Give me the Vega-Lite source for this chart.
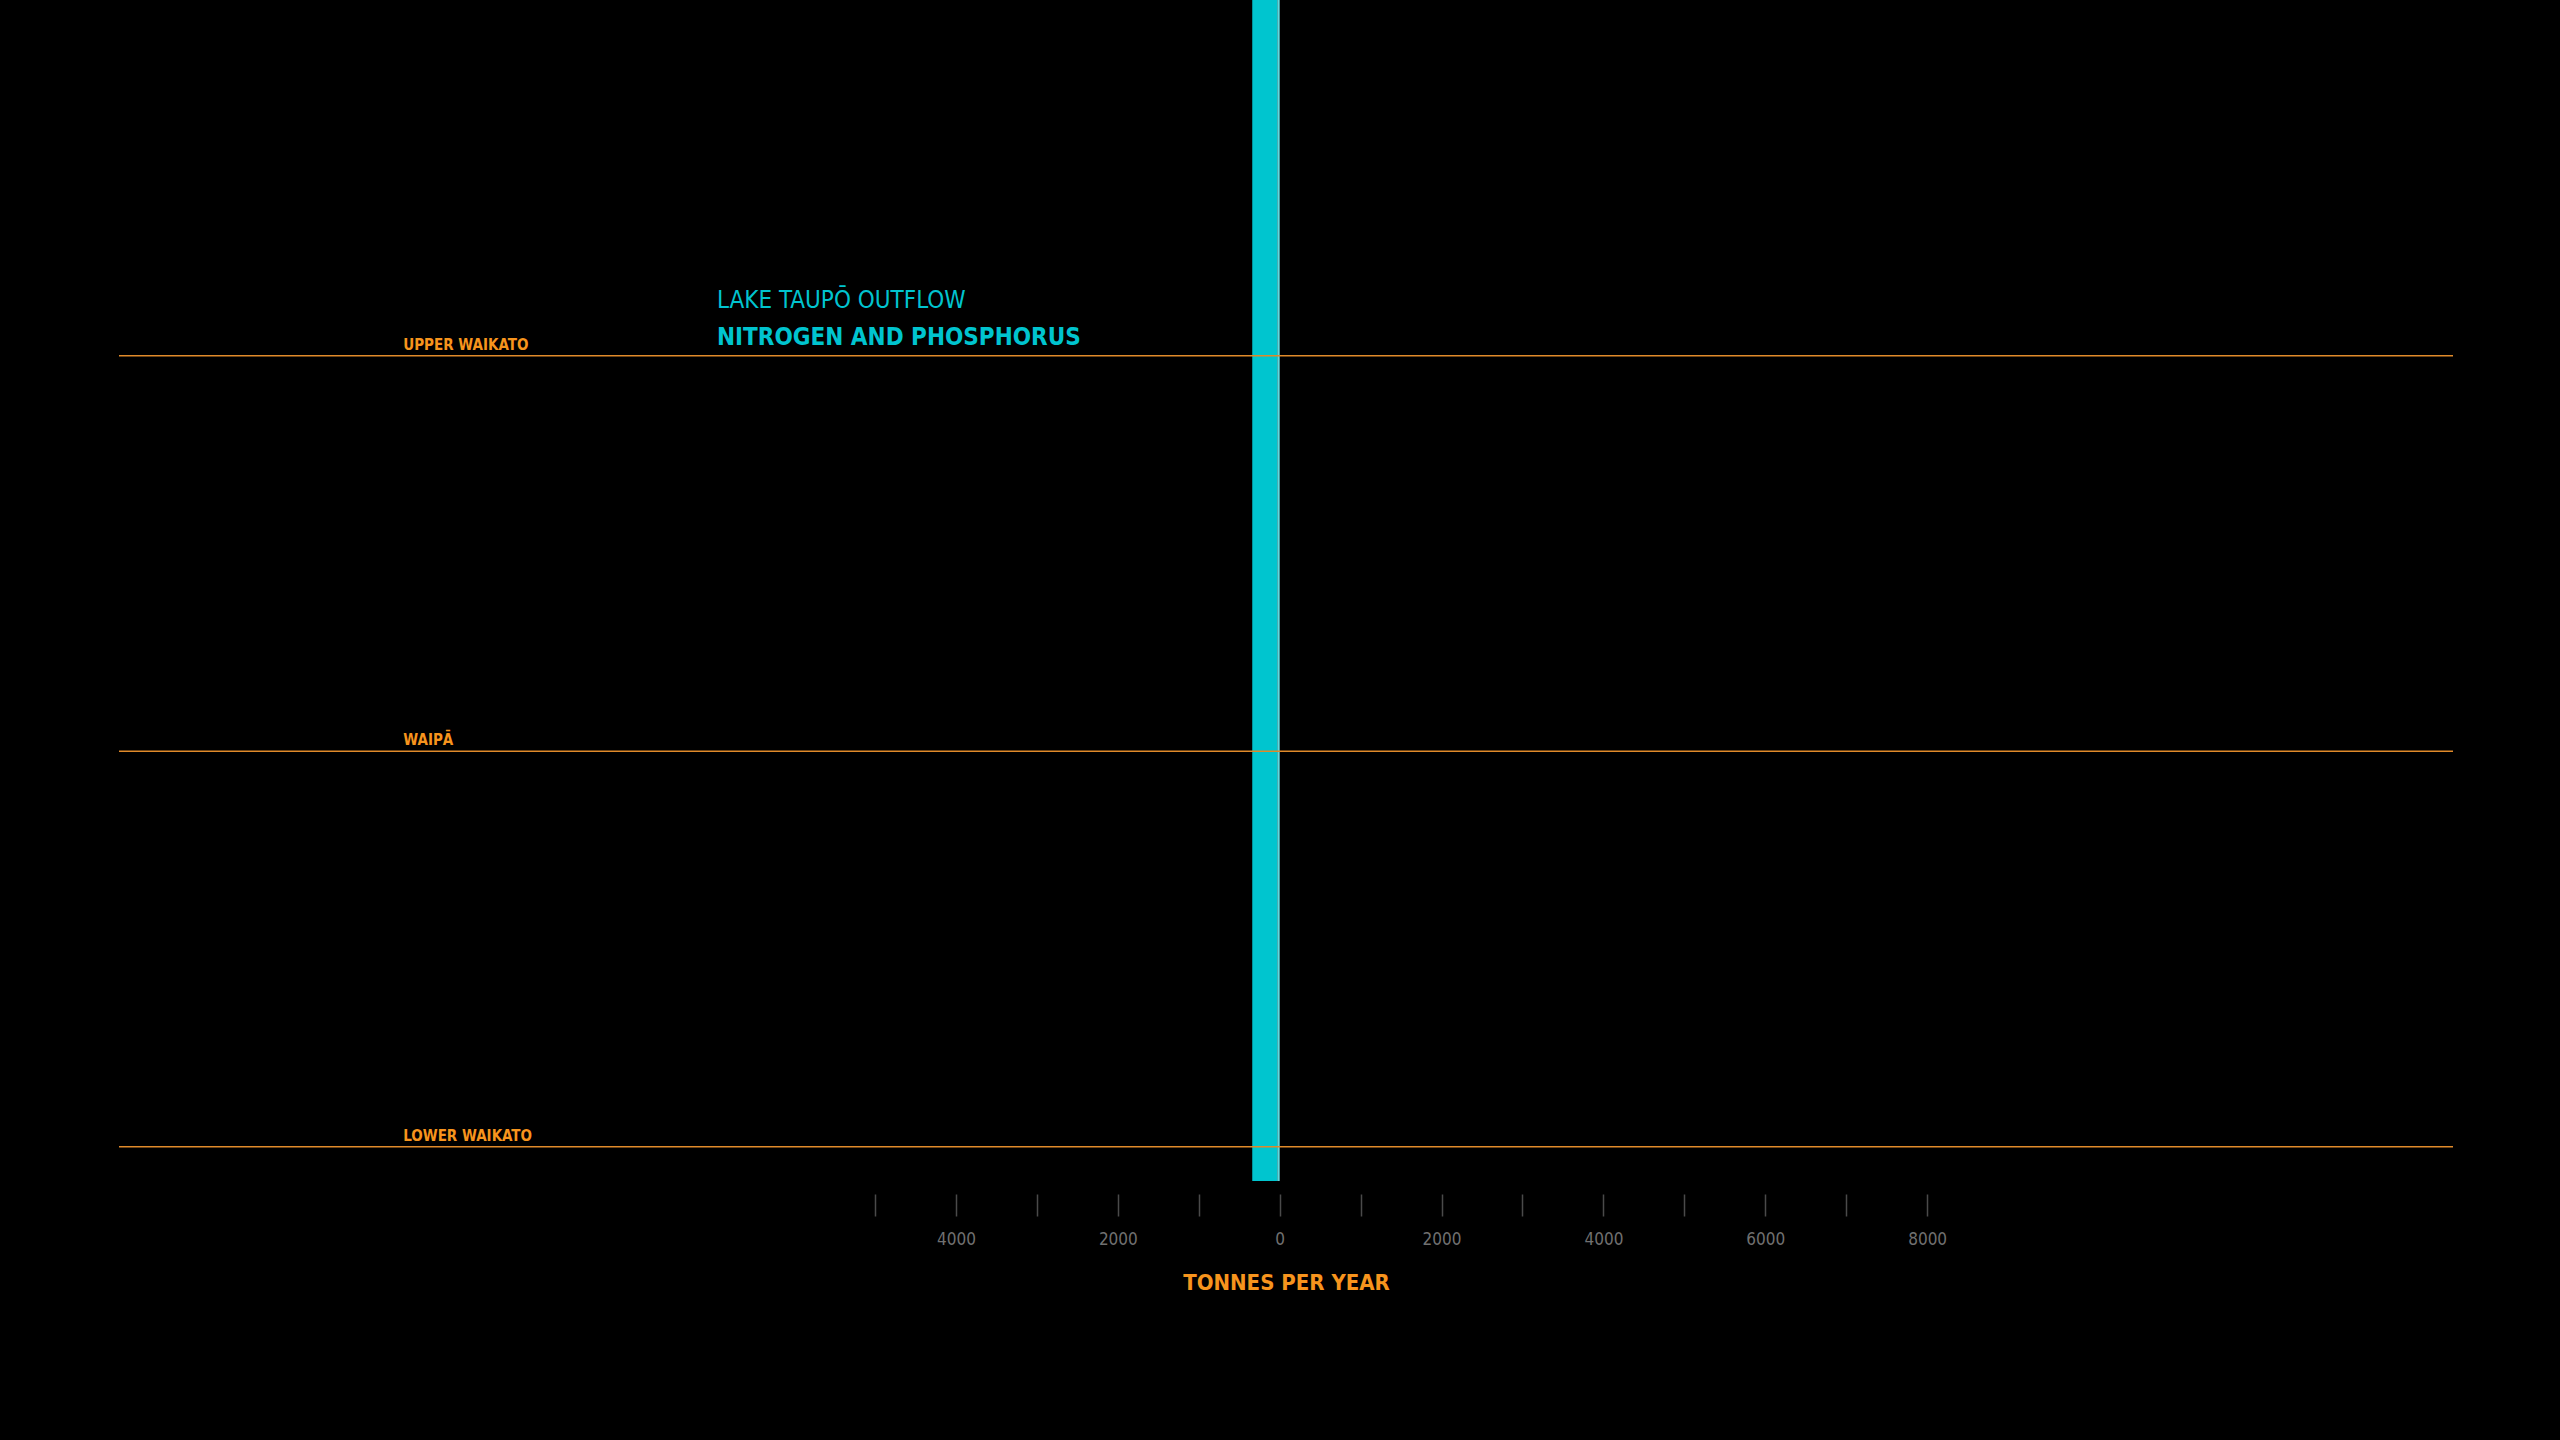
{
  "$schema": "https://vega.github.io/schema/vega-lite/v6.json",
  "width": 2334,
  "height": 1181,
  "autosize": {"type": "none"},
  "padding": {"left": 119, "top": 0, "right": 107, "bottom": 259},
  "background": "#000000",
  "config": {
    "view": {"stroke": null},
    "font": "Liberation Sans Narrow, DejaVu Sans Condensed, sans-serif"
  },
  "datasets": {
    "regions": [
      {"region": "UPPER WAIKATO", "pos": 1},
      {"region": "WAIPĀ", "pos": 2},
      {"region": "LOWER WAIKATO", "pos": 3}
    ],
    "outflow": [
      {"series": "Nitrogen", "start": -339, "end": -30},
      {"series": "Phosphorus", "start": -30, "end": 0}
    ],
    "titles": [
      {"text": "LAKE TAUPŌ OUTFLOW", "line": 1, "pos": 0.8786},
      {"text": "NITROGEN AND PHOSPHORUS", "line": 2, "pos": 0.973}
    ]
  },
  "layer": [
    {
      "data": {"name": "outflow"},
      "mark": {"type": "rect"},
      "encoding": {
        "x": {
          "field": "start",
          "type": "quantitative",
          "scale": {"domain": [-14342, 14498], "nice": false, "zero": false},
          "axis": {
            "orient": "bottom",
            "title": "TONNES PER YEAR",
            "values": [-5000, -4000, -3000, -2000, -1000, 0, 1000, 2000, 3000, 4000, 5000, 6000, 7000, 8000],
            "labelExpr": "datum.value % 2000 == 0 ? format(abs(datum.value), 'd') : ''",
            "domain": false,
            "grid": false,
            "offset": 13,
            "tickSize": 22,
            "tickColor": "#4a4a4a",
            "tickWidth": 1.5,
            "labelColor": "#707070",
            "labelFontSize": 17,
            "labelPadding": 15,
            "labelFlush": false,
            "labelOverlap": false,
            "titleColor": "#F7941D",
            "titleFontSize": 22,
            "titleFontWeight": "bold",
            "titlePadding": 25
          }
        },
        "x2": {"field": "end"},
        "color": {"field": "series", "type": "nominal", "scale": {"domain": ["Nitrogen", "Phosphorus"], "range": ["#00C5CF", "#5ED9E0"]}, "legend": null}
      }
    },
    {
      "data": {"name": "regions"},
      "mark": {"type": "rule", "color": "#E08A2A", "strokeWidth": 1.5},
      "encoding": {
        "y": {"field": "pos", "type": "quantitative", "scale": {"domain": [0.1006, 3.0867], "reverse": true, "nice": false, "zero": false}, "axis": null}
      }
    },
    {
      "data": {"name": "regions"},
      "mark": {"type": "text", "align": "left", "baseline": "alphabetic", "dy": -6, "fontSize": 15, "fontWeight": "bold", "color": "#F7941D"},
      "encoding": {
        "x": {"datum": -10830},
        "y": {"field": "pos", "type": "quantitative", "axis": null},
        "text": {"field": "region"}
      }
    },
    {
      "data": {"name": "titles"},
      "transform": [{"filter": "datum.line == 1"}],
      "mark": {"type": "text", "align": "left", "baseline": "alphabetic", "fontSize": 24, "fontWeight": "normal", "color": "#00C4CF"},
      "encoding": {
        "x": {"datum": -6953},
        "y": {"field": "pos", "type": "quantitative", "axis": null},
        "text": {"field": "text"}
      }
    },
    {
      "data": {"name": "titles"},
      "transform": [{"filter": "datum.line == 2"}],
      "mark": {"type": "text", "align": "left", "baseline": "alphabetic", "fontSize": 24, "fontWeight": "bold", "color": "#00C4CF"},
      "encoding": {
        "x": {"datum": -6953},
        "y": {"field": "pos", "type": "quantitative", "axis": null},
        "text": {"field": "text"}
      }
    }
  ]
}
